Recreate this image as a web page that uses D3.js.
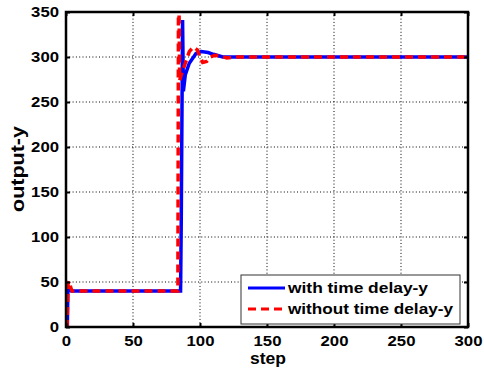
<!DOCTYPE html>
<html>
<head>
<meta charset="utf-8">
<script src="https://cdn.jsdelivr.net/npm/d3@7"></script>
<style>
  body { margin: 0; background: #fff; }
  svg text { font-family: Arial, "Liberation Sans", sans-serif; font-weight: bold; fill: #000; }
</style>
</head>
<body>
<svg id="main" width="484" height="373"></svg>
<script>
// series (step, output)
var stepsDelay   = [0, 1, 1.4, 2.5, 4, 85.5, 86, 87, 87.6, 89, 92, 97, 101, 106, 110, 117, 300]
var outDelay     = [0, 0, 42, 41, 40, 40, 116, 341, 262, 280, 293, 304, 306, 305, 303, 300, 300]
var stepsNoDelay = [0, 0.8, 1.5, 2.5, 3.5, 4.5, 83.5, 84, 84.8, 86, 89, 92, 95, 98, 100, 102, 105, 108, 111, 115, 120, 127, 300]
var outNoDelay   = [0, 0, 48, 51, 44, 40, 40, 420, 274, 280, 293, 306, 311, 308, 300, 294, 295, 300, 302, 301, 299, 300, 300]
var xTicks = [0, 50, 100, 150, 200, 250, 300]
var yTicks = [0, 50, 100, 150, 200, 250, 300, 350]
var names = ['with time delay-y', 'without time delay-y']

svg = d3.select("#main")

var L = 66, R = 468, T = 12, B = 327

x = d3.scaleLinear().domain([0, 300]).range([L, R])
y = d3.scaleLinear().domain([0, 350]).range([B, T])

// grid
svg.append('g').selectAll('line').data(xTicks.slice(1, -1)).enter().append('line')
  .attr('x1', function(d) { return x(d) }).attr('x2', function(d) { return x(d) })
  .attr('y1', T).attr('y2', B)
  .attr('stroke', '#000').attr('stroke-width', 1).attr('stroke-dasharray', '1,2.3')
svg.append('g').selectAll('line').data(yTicks.slice(1, -1)).enter().append('line')
  .attr('y1', function(d) { return y(d) }).attr('y2', function(d) { return y(d) })
  .attr('x1', L).attr('x2', R)
  .attr('stroke', '#000').attr('stroke-width', 1).attr('stroke-dasharray', '1,2.3')

svg.append('clipPath').attr('id', 'clip').append('rect')
  .attr('x', L).attr('y', T).attr('width', R - L).attr('height', B - T)

line = d3.line()
  .x(function(d) { return x(d[0]) })
  .y(function(d) { return y(d[1]) })

var delayPts = stepsDelay.map(function(s, i) { return [s, outDelay[i]] })
var noDelayPts = stepsNoDelay.map(function(s, i) { return [s, outNoDelay[i]] })

var plot = svg.append('g').attr('clip-path', 'url(#clip)')
plot.append('path').attr('d', line(delayPts))
  .attr('fill', 'none').attr('stroke', '#0000ff').attr('stroke-width', 3.5)
plot.append('path').attr('d', line(noDelayPts))
  .attr('fill', 'none').attr('stroke', '#ff0000').attr('stroke-width', 3.5)
  .attr('stroke-dasharray', '8,5')

// axes, ticks inward on all sides
function styleAxis(g) {
  g.select('.domain').remove()
  g.selectAll('.tick line').attr('stroke', '#000').attr('stroke-width', 2)
  g.selectAll('text').style('font-size', '15px')
    .attr('textLength', function(d) { return String(d).length * 9.3 })
    .attr('lengthAdjust', 'spacingAndGlyphs')
}
svg.append('g').attr('transform', 'translate(0,' + B + ')')
  .call(d3.axisBottom(x).tickValues(xTicks).tickSize(-4).tickPadding(8)).call(styleAxis)
svg.append('g').attr('transform', 'translate(0,' + T + ')')
  .call(d3.axisTop(x).tickValues(xTicks).tickSize(-4).tickFormat('')).call(styleAxis)
svg.append('g').attr('transform', 'translate(' + L + ',0)')
  .call(d3.axisLeft(y).tickValues(yTicks).tickSize(-4).tickPadding(7)).call(styleAxis)
svg.append('g').attr('transform', 'translate(' + R + ',0)')
  .call(d3.axisRight(y).tickValues(yTicks).tickSize(-4).tickFormat('')).call(styleAxis)

svg.append('rect').attr('x', L).attr('y', T).attr('width', R - L).attr('height', B - T)
  .attr('fill', 'none').attr('stroke', '#000').attr('stroke-width', 2.5)

svg.append('text').attr('x', 268).attr('y', 364).attr('text-anchor', 'middle')
  .style('font-size', '17px').attr('textLength', 36).attr('lengthAdjust', 'spacingAndGlyphs')
  .text('step')
svg.append('text').attr('transform', 'translate(24,169) rotate(-90)')
  .attr('text-anchor', 'middle').style('font-size', '18px')
  .attr('textLength', 86).attr('lengthAdjust', 'spacingAndGlyphs')
  .text('output-y')

// legend
var lg = svg.append('g').attr('transform', 'translate(241,275)')
lg.append('rect').attr('width', 219).attr('height', 49)
  .attr('fill', '#fff').attr('stroke', '#333').attr('stroke-width', 1)
var colors = ['#0000ff', '#ff0000']
var dashes = [null, '8,5']
names.forEach(function(n, i) {
  var yy = 13 + i * 21
  lg.append('line').attr('x1', 7).attr('x2', 44).attr('y1', yy).attr('y2', yy)
    .attr('stroke', colors[i]).attr('stroke-width', 3).attr('stroke-dasharray', dashes[i])
  lg.append('text').attr('x', 47).attr('y', yy + 5).style('font-size', '14px')
    .attr('textLength', i == 0 ? 140 : 165).attr('lengthAdjust', 'spacingAndGlyphs')
    .text(n)
})
</script>
</body>
</html>
